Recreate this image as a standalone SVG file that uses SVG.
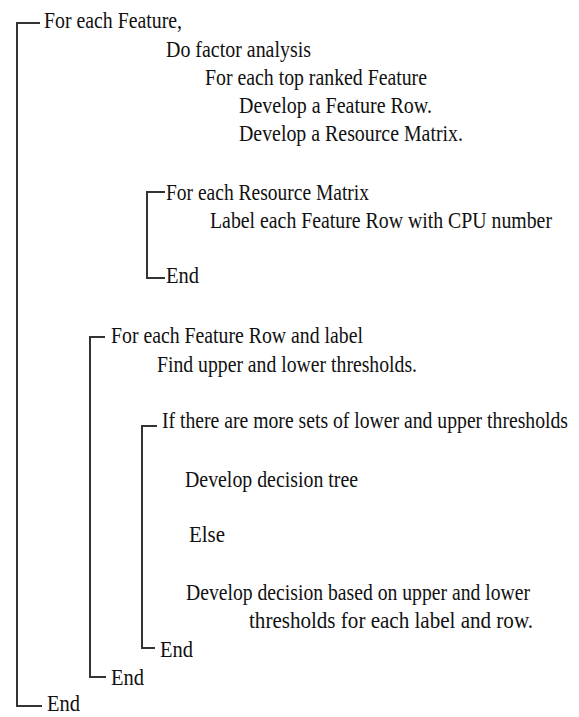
<svg xmlns="http://www.w3.org/2000/svg" width="579" height="717" viewBox="0 0 579 717">
<style>
text{font-family:"Liberation Serif","Times New Roman",serif;font-size:20px;fill:#111;}
.br{fill:none;stroke:#333;stroke-width:2;}
</style>
<rect width="579" height="717" fill="#fff"/>
<g id="connectors">
<path class="br" d="M40,23 H17 V706 H42"/>
<path class="br" d="M165,192 H147 V278 H165"/>
<path class="br" d="M105,337 H90 V677 H106"/>
<path class="br" d="M157,426 H142 V648 H155"/>
</g>
<g id="n1"><text transform="translate(44,28) scale(1,1.2)" textLength="138" lengthAdjust="spacingAndGlyphs">For each Feature,</text></g>
<g id="n2"><text transform="translate(166,57) scale(1,1.2)" textLength="145" lengthAdjust="spacingAndGlyphs">Do factor analysis</text></g>
<g id="n3"><text transform="translate(205,85) scale(1,1.2)" textLength="222" lengthAdjust="spacingAndGlyphs">For each top ranked Feature</text></g>
<g id="n4"><text transform="translate(239,113) scale(1,1.2)" textLength="193" lengthAdjust="spacingAndGlyphs">Develop a Feature Row.</text></g>
<g id="n5"><text transform="translate(239,141) scale(1,1.2)" textLength="224" lengthAdjust="spacingAndGlyphs">Develop a Resource Matrix.</text></g>
<g id="n6"><text transform="translate(166,200) scale(1,1.2)" textLength="203" lengthAdjust="spacingAndGlyphs">For each Resource Matrix</text></g>
<g id="n7"><text transform="translate(210,228) scale(1,1.2)" textLength="342" lengthAdjust="spacingAndGlyphs">Label each Feature Row with CPU number</text></g>
<g id="n8"><text transform="translate(166,283) scale(1,1.2)" textLength="33" lengthAdjust="spacingAndGlyphs">End</text></g>
<g id="n9"><text transform="translate(111,343) scale(1,1.2)" textLength="252" lengthAdjust="spacingAndGlyphs">For each Feature Row and label</text></g>
<g id="n10"><text transform="translate(157,372) scale(1,1.2)" textLength="260" lengthAdjust="spacingAndGlyphs">Find upper and lower thresholds.</text></g>
<g id="n11"><text transform="translate(162,428) scale(1,1.2)" textLength="406" lengthAdjust="spacingAndGlyphs">If there are more sets of lower and upper thresholds</text></g>
<g id="n12"><text transform="translate(185,487) scale(1,1.2)" textLength="173" lengthAdjust="spacingAndGlyphs">Develop decision tree</text></g>
<g id="n13"><text transform="translate(189,542) scale(1,1.2)" textLength="36" lengthAdjust="spacingAndGlyphs">Else</text></g>
<g id="n14"><text transform="translate(186,600) scale(1,1.2)" textLength="344" lengthAdjust="spacingAndGlyphs">Develop decision based on upper and lower</text></g>
<g id="n15"><text transform="translate(249,628) scale(1,1.2)" textLength="284" lengthAdjust="spacingAndGlyphs">thresholds for each label and row.</text></g>
<g id="n16"><text transform="translate(160,657) scale(1,1.2)" textLength="33" lengthAdjust="spacingAndGlyphs">End</text></g>
<g id="n17"><text transform="translate(111,685) scale(1,1.2)" textLength="33" lengthAdjust="spacingAndGlyphs">End</text></g>
<g id="n18"><text transform="translate(47,711) scale(1,1.2)" textLength="33" lengthAdjust="spacingAndGlyphs">End</text></g>
</svg>
